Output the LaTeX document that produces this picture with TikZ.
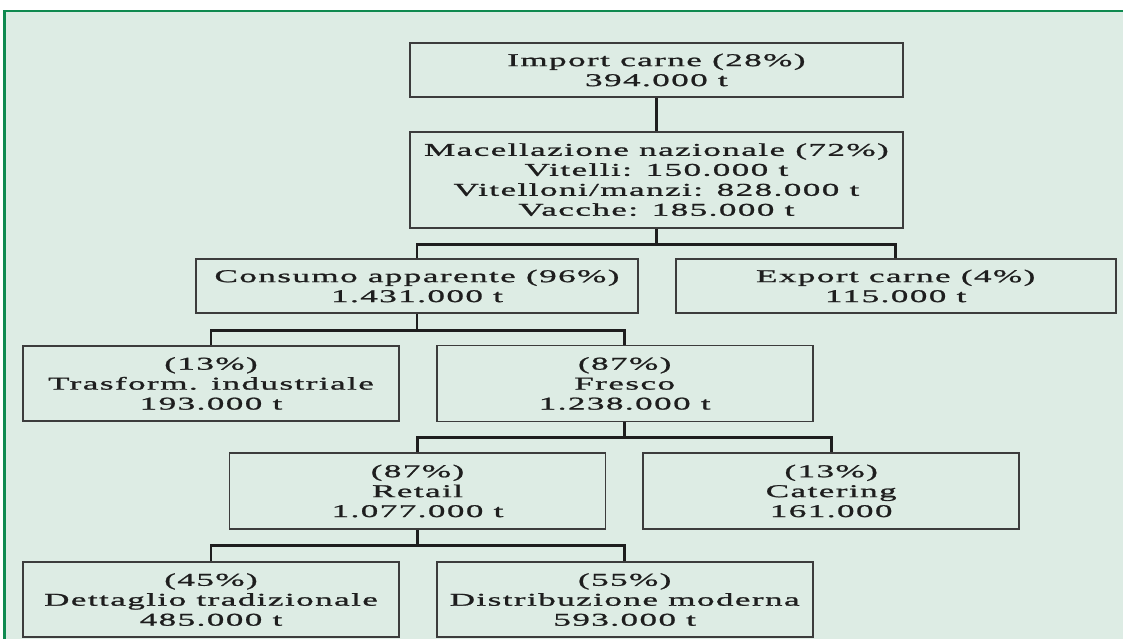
\documentclass[tikz,border=0pt]{standalone}
\usepackage{fontspec}
\setmainfont{Liberation Serif}[FakeStretch=1.95, LetterSpace=8, FakeBold=1.2]
\usetikzlibrary{positioning}
\definecolor{frameGreen}{HTML}{0F8A50}
\definecolor{paleGreen}{HTML}{DDECE4}
\definecolor{boxGrey}{HTML}{3C3C3C}
\definecolor{inkBlack}{HTML}{1E1E1E}

\begin{document}
\begin{tikzpicture}[font=\fontsize{12.8}{14.2}\selectfont, node distance=0.825cm and 0.9cm,
    box/.style={draw=boxGrey, line width=1.2pt, text=inkBlack, align=center,
      minimum width=9.4cm, minimum height=1.9cm, inner sep=0pt},
    link/.style={draw=inkBlack, line width=2pt}]
    \useasboundingbox (0,0) rectangle (28.075,-15.975);
    \fill[white] (0,0) rectangle (28.075,-15.975);
    \fill[paleGreen] (0.1125,-0.275) rectangle (28.075,-15.975);
    \draw[frameGreen, line width=2pt] (0.1125,-15.975) -- (0.1125,-0.275) -- (28.075,-0.275);

    \node[box, minimum width=12.325cm, minimum height=1.35cm] (import) at (16.41,-1.75)
      {Import carne (28\%)\\394.000 t};
    \node[box, minimum width=12.325cm, minimum height=2.4cm, below=of import] (macell)
      {Macellazione nazionale (72\%)\\Vitelli: 150.000 t\\Vitelloni/manzi: 828.000 t\\Vacche: 185.000 t};

    \node[box, minimum width=11.05cm, minimum height=1.35cm] (consumo) at (10.425,-7.15)
      {Consumo apparente (96\%)\\1.431.000 t};
    \node[box, minimum width=11cm, minimum height=1.35cm, right=of consumo] (export)
      {Export carne (4\%)\\115.000 t};

    \node[box, minimum height=1.875cm] (trasform) at (5.275,-9.5875)
      {(13\%)\\Trasform. industriale\\193.000 t};
    \node[box, right=of trasform] (fresco)
      {(87\%)\\Fresco\\1.238.000 t};

    \node[box] (retail) at (10.4375,-12.275)
      {(87\%)\\Retail\\1.077.000 t};
    \node[box, right=of retail] (catering)
      {(13\%)\\Catering\\161.000};

    \node[box, minimum height=1.875cm] (dettaglio) at (5.275,-14.99)
      {(45\%)\\Dettaglio tradizionale\\485.000 t};
    \node[box, minimum height=1.875cm, right=of dettaglio] (distrib)
      {(55\%)\\Distribuzione moderna\\593.000 t};

    \draw[link] (import) -- (macell);
    \draw[link] (macell.south) -- ++(0,-0.4) -| (consumo.north);
    \draw[link] (macell.south) ++(0,-0.4) -| (export.north);
    \draw[link] (consumo.south) -- ++(0,-0.425) -| (trasform.north);
    \draw[link] (consumo.south) ++(0,-0.425) -| (fresco.north);
    \draw[link] (fresco.south) -- ++(0,-0.375) -| (retail.north);
    \draw[link] (fresco.south) ++(0,-0.375) -| (catering.north);
    \draw[link] (retail.south) -- ++(0,-0.4) -| (dettaglio.north);
    \draw[link] (retail.south) ++(0,-0.4) -| (distrib.north);
  \end{tikzpicture}
\end{document}
